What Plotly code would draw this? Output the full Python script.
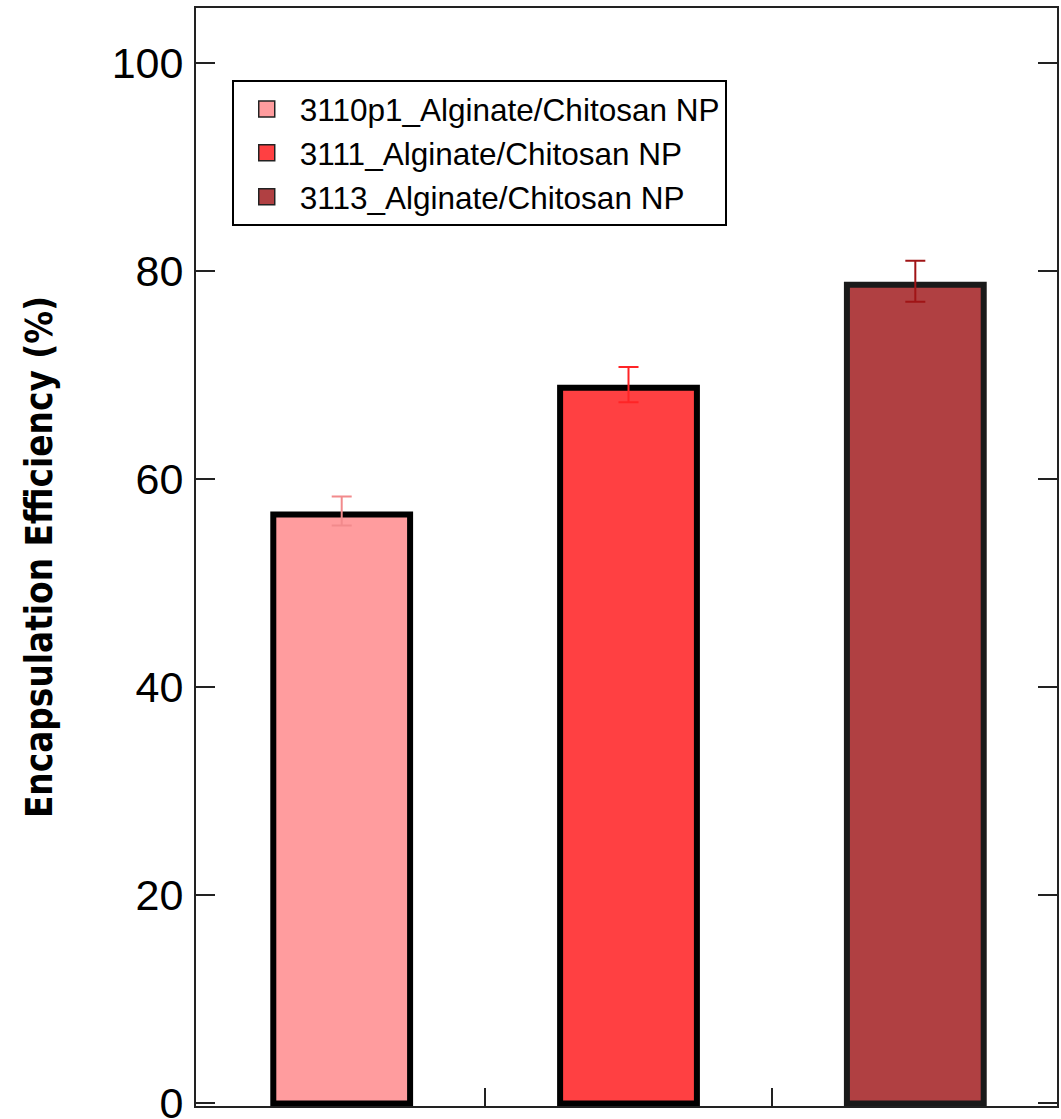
import plotly.graph_objects as go

names = ["3110p1_Alginate/Chitosan NP", "3111_Alginate/Chitosan NP", "3113_Alginate/Chitosan NP"]
positions = [0, 1, 2]
values = [56.6, 68.8, 78.7]
err_plus = [1.75, 2.0, 2.3]
err_minus = [1.05, 1.4, 1.65]
fill_colors = ["#ff9c9e", "#ff4042", "#b04042"]
edge_colors = ["#000000", "#000000", "#1a1a1a"]
err_colors = ["#f28a8c", "#ff2426", "#a01416"]
y_ticks = [0, 20, 40, 60, 80, 100]

fig = go.Figure()
for i in range(3):
    fig.add_trace(go.Bar(
        x=[positions[i]], y=[values[i]], name=names[i], width=0.477, showlegend=False,
        legendgroup=names[i],
        marker=dict(color=fill_colors[i], line=dict(color=edge_colors[i], width=6)),
        error_y=dict(type="data", symmetric=False, array=[err_plus[i]], arrayminus=[err_minus[i]],
                     color=err_colors[i], thickness=2, width=10),
    ))
# legend swatches (rectangular fill with thin dark border, as in the reference)
for i in range(3):
    fig.add_trace(go.Scatter(
        x=[None], y=[None], mode="markers", name=names[i], legendgroup=names[i],
        marker=dict(symbol="square", size=16, color=fill_colors[i],
                    line=dict(color="#222", width=1.5)),
    ))

fig.update_layout(
    width=1061, height=1119,
    margin=dict(l=196, r=4, t=8, b=13, autoexpand=False),
    paper_bgcolor="white", plot_bgcolor="white",
    barmode="overlay",
    font=dict(family="Liberation Sans, Arial, sans-serif", color="black"),
    showlegend=True,
    legend=dict(x=0.0415, y=0.9345, xanchor="left", yanchor="top",
                bgcolor="white", bordercolor="black", borderwidth=2,
                font=dict(size=31.5, family="Liberation Sans, Arial, sans-serif"),
                itemwidth=56, tracegroupgap=0),
)
fig.update_xaxes(range=[-0.508, 2.494], tickvals=[0.5, 1.5], ticks="inside", ticklen=18, tickwidth=2,
                 tickcolor="#222", showticklabels=False, showline=True, linecolor="#222", linewidth=2,
                 mirror=True, showgrid=False, zeroline=False)
fig.update_yaxes(range=[-0.25, 105.3], tickvals=y_ticks, ticks="inside", ticklen=19, tickwidth=2,
                 tickcolor="#222", showline=True, linecolor="#222", linewidth=2, mirror="ticks",
                 showgrid=False, zeroline=False, tickfont=dict(size=43), ticklabelstandoff=2,
                 ticklabeloverflow="allow",
                 title=dict(text="<b>Encapsulation Efficiency (%)</b>", standoff=48,
                            font=dict(size=36.5, family="Liberation Sans Narrow, DejaVu Sans Condensed, sans-serif")))

fig.write_html("out.html")
